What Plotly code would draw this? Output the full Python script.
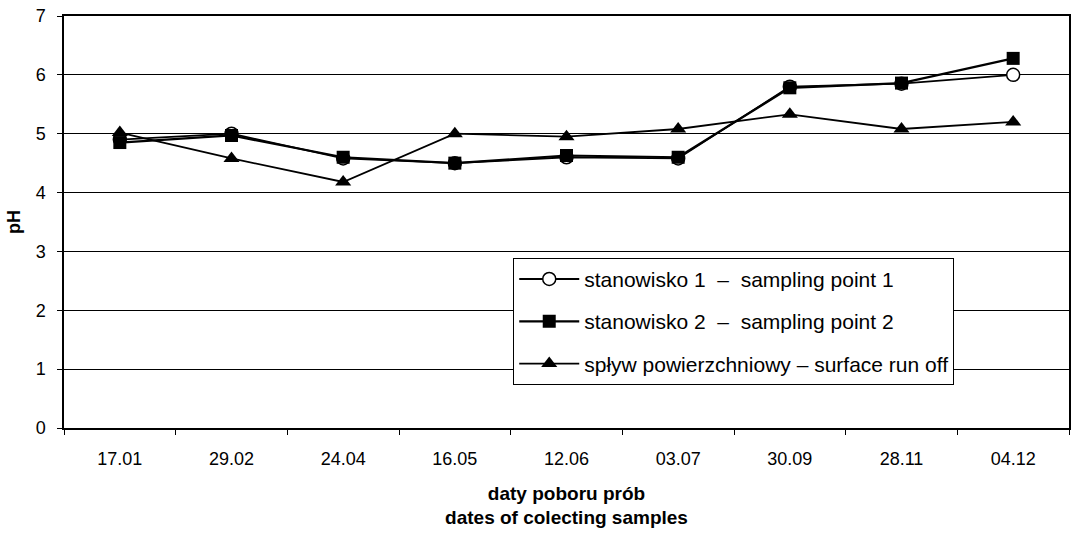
import plotly.graph_objects as go

dates = ["17.01", "29.02", "24.04", "16.05", "12.06", "03.07", "30.09", "28.11", "04.12"]
point1 = [4.90, 5.00, 4.58, 4.50, 4.60, 4.58, 5.80, 5.85, 6.00]
point2 = [4.85, 4.97, 4.60, 4.50, 4.63, 4.60, 5.78, 5.86, 6.28]
runoff = [5.02, 4.58, 4.18, 5.00, 4.95, 5.08, 5.33, 5.08, 5.20]

names = ["stanowisko 1  \u2013  sampling point 1",
         "stanowisko 2  \u2013  sampling point 2",
         "sp\u0142yw powierzchniowy \u2013 surface run off"]

fig = go.Figure()
fig.add_trace(go.Scatter(x=dates, y=point1, name=names[0], mode="lines+markers",
                         legendgroup="a",
                         line=dict(color="black", width=1.8),
                         marker=dict(symbol="circle", size=13, color="white",
                                     line=dict(color="black", width=1.5))))
fig.add_trace(go.Scatter(x=dates, y=point2, name=names[1], mode="lines+markers",
                         legendgroup="b",
                         line=dict(color="black", width=2.2),
                         marker=dict(symbol="square", size=13, color="black")))
fig.add_trace(go.Scatter(x=dates, y=runoff, name=names[2], mode="lines+markers",
                         legendgroup="c",
                         line=dict(color="black", width=1.8),
                         marker=dict(symbol="triangle-up", size=14, color="black")))

fig.update_layout(
    width=1074, height=536,
    margin=dict(l=64, r=3, t=16, b=108),
    paper_bgcolor="white", plot_bgcolor="white",
    font=dict(family="Liberation Sans, Arial", size=18, color="black"),
    showlegend=True,
    legend=dict(x=0.447, y=0.413, xanchor="left", yanchor="top",
                bgcolor="white", bordercolor="black", borderwidth=1,
                font=dict(size=21), tracegroupgap=12,
                itemwidth=60),
)
fig.update_xaxes(type="category", tickson="boundaries", ticks="outside", ticklen=5,
                 tickcolor="black", showline=True, linecolor="black", linewidth=1.5,
                 mirror=True, showgrid=False, ticklabelstandoff=14,
                 range=[-0.5, 8.5],
                 title=dict(text="<b>daty poboru prób<br>dates of colecting samples</b>",
                            font=dict(size=19), standoff=18))
fig.update_yaxes(range=[0, 7], dtick=1, ticks="outside", ticklen=5, tickcolor="black",
                 showline=True, linecolor="black", linewidth=1.5, mirror=True,
                 showgrid=True, gridcolor="black", gridwidth=1,
                 zeroline=False, ticklabelstandoff=8,
                 title=dict(text="<b>pH</b>", font=dict(size=18), standoff=10))

fig.write_html("out.html")
